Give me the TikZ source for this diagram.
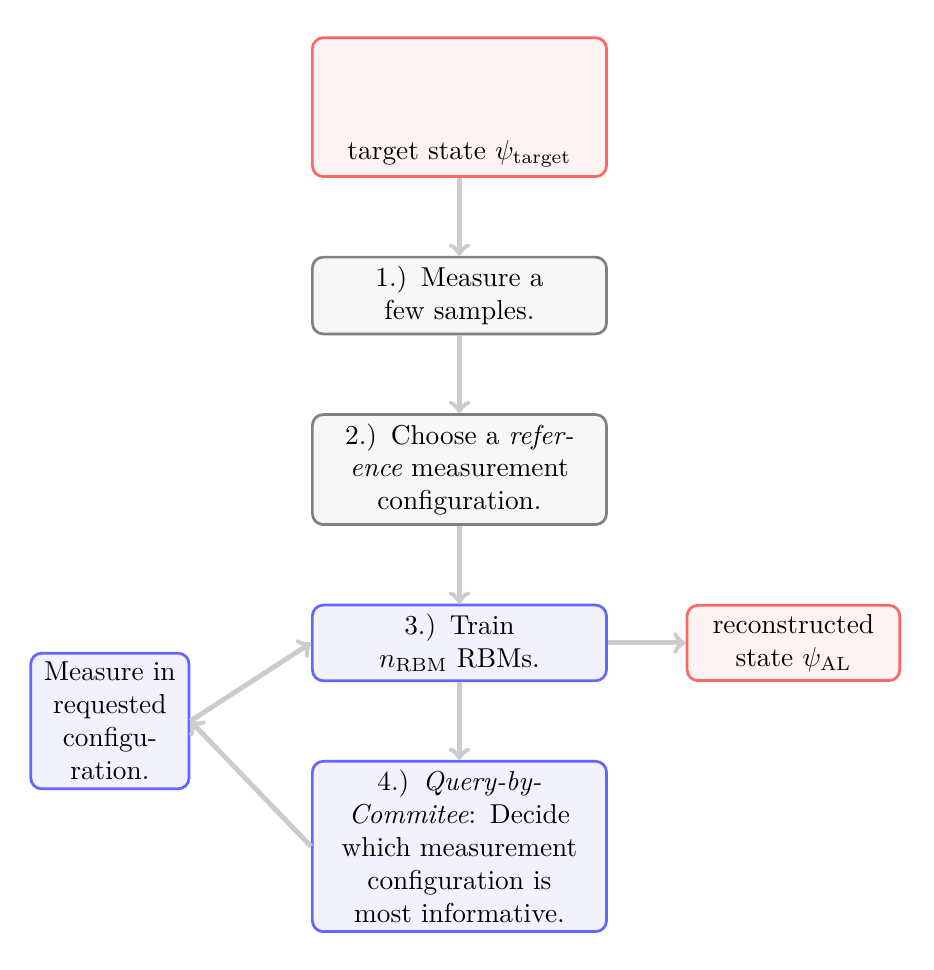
\documentclass[tikz,border=0pt]{standalone}
\usetikzlibrary{positioning,calc}
\begin{document}
\begin{tikzpicture}[
	node distance=1cm,
	box/.style={draw, rounded corners, line width=1pt, align=center, text width=3.15cm, minimum width=3.78cm},
	graybox/.style={box, draw=black!50, fill=black!3},
	bluebox/.style={box, draw=blue!60, fill=blue!5},
	redbox/.style={box, draw=red!60, fill=red!5},
	flow/.style={->, draw=black!20, line width=1.8pt}
]
\useasboundingbox (-168pt, -119.6pt) rectangle (173.5pt, 235.1pt);

\node[bluebox] (train) at (0, 0) {3.) Train\\ $n_{\mathrm{RBM}}$ RBMs.};
\node[graybox, above=of train] (choose) {2.) Choose a \emph{reference} measurement configuration.};
\node[graybox, above=of choose] (samples) {1.) Measure a\\ few samples.};
\node[redbox, above=of samples, text height=1.45cm] (target) {target state $\psi_{\mathrm{target}}$};
\node[bluebox, below=of train] (query) {4.) \emph{Query-by-Commitee}: Decide which measurement configuration is most informative.};
\node[redbox, right=of train, text width=2.5cm, minimum width=0pt] (result) {reconstructed state $\psi_{\mathrm{AL}}$};

\coordinate (gap) at ($(train.south west)!0.5!(query.north west)$);
\node[bluebox, left=1.55cm of gap, text width=1.8cm, minimum width=0pt] (measure) {Measure in requested configuration.};

\draw[flow] (target) -- (samples);
\draw[flow] (samples) -- (choose);
\draw[flow] (choose) -- (train);
\draw[flow] (train) -- (query);
\draw[flow] (train) -- (result);
\draw[flow] (measure.east) -- (train.west);
\draw[flow] (query.west) -- (measure.east);
\end{tikzpicture}
\end{document}
